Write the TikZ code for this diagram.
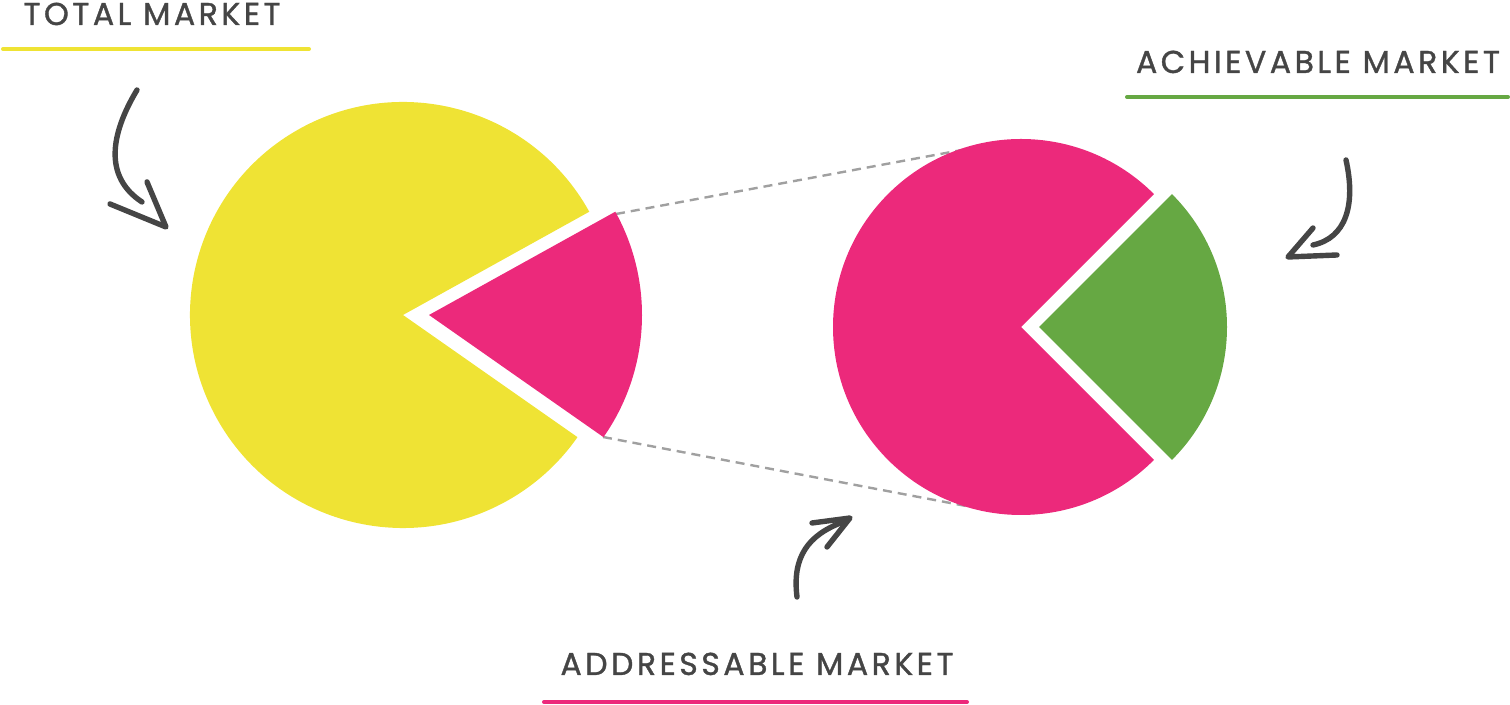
\documentclass[tikz,border=0pt]{standalone}
\usepackage{fontspec}
\setmainfont{Poppins}
\newfontfamily\labelfont{Poppins}[LetterSpace=11, FakeBold=1.2]
\usepackage{xcolor}
\usepackage{tikz}

\definecolor{totalyellow}{HTML}{EFE334}
\definecolor{addrpink}{HTML}{EC297B}
\definecolor{achgreen}{HTML}{66A843}
\definecolor{inkgray}{HTML}{454545}
\definecolor{dashgray}{HTML}{A0A0A0}

\tikzset{
    label text/.style={font=\labelfont\fontsize{15.8}{18}\selectfont, text=inkgray, inner sep=0pt, anchor=base},
    scribble/.style={draw=inkgray, line width=2.7pt, line cap=round, line join=round},
    zoom line/.style={draw=dashgray, line width=1.2pt, dash pattern=on 4.5pt off 3pt},
}

\begin{document}
\begin{tikzpicture}[x=0.5pt, y=0.5pt]
    \useasboundingbox (0,0) rectangle (1510,705);

    % dashed lines from the pulled slice to the second pie (drawn first, the pie hides their ends)
    \coordinate (slice top) at (616,491);
    \coordinate (slice bottom) at (603,268);
    \coordinate (pie top) at (962,555);
    \coordinate (pie bottom) at (966,199);
    \draw[zoom line] (slice top) -- (pie top);
    \draw[zoom line] (slice bottom) -- (pie bottom);

    % total market with the addressable slice pulled out
    \fill[totalyellow] (403,390) -- ++(29:213) arc[start angle=29, end angle=325, radius=213] -- cycle;
    \fill[addrpink] (429,390) -- ++(-35:213) arc[start angle=-35, end angle=29, radius=213] -- cycle;

    % addressable market with the achievable slice pulled out
    \fill[addrpink] (1021,378) -- ++(45:188) arc[start angle=45, end angle=315, radius=188] -- cycle;
    \fill[achgreen] (1039,378) -- ++(-45:188) arc[start angle=-45, end angle=45, radius=188] -- cycle;

    % labels and their underlines
    \foreach \x/\y/\uy/\ua/\ub/\txt/\col in {152/680/656/3/309/TOTAL MARKET/totalyellow,
                                           1318/632/608/1127/1508/ACHIEVABLE MARKET/achgreen,
                                           757/30/3/544/967/ADDRESSABLE MARKET/addrpink} {
        \node[label text] (\col label) at (\x,\y) {\txt};
        \draw[\col, line width=2pt, line cap=round] (\ua,\uy) -- (\ub,\uy);
    }

    % hand drawn arrows
    \coordinate (total tail) at (137,615);
    \coordinate (total tip) at (166,478);
    \draw[scribble] (total tail) .. controls (110,570) and (104,528) .. (142,503);
    \draw[scribble] (110,501) -- (total tip) -- (147,523);

    \coordinate (ach tail) at (1346,545);
    \coordinate (ach tip) at (1288,448);
    \draw[scribble] (ach tail) .. controls (1356,500) and (1346,467) .. (1313,460);
    \draw[scribble] (1313,477) -- (ach tip) -- (1337,450);

    \coordinate (addr tail) at (797,108);
    \coordinate (addr tip) at (850,187);
    \draw[scribble] (addr tail) .. controls (792,148) and (808,170) .. (843,183);
    \draw[scribble] (812,182) -- (addr tip) -- (827,158);
\end{tikzpicture}
\end{document}
